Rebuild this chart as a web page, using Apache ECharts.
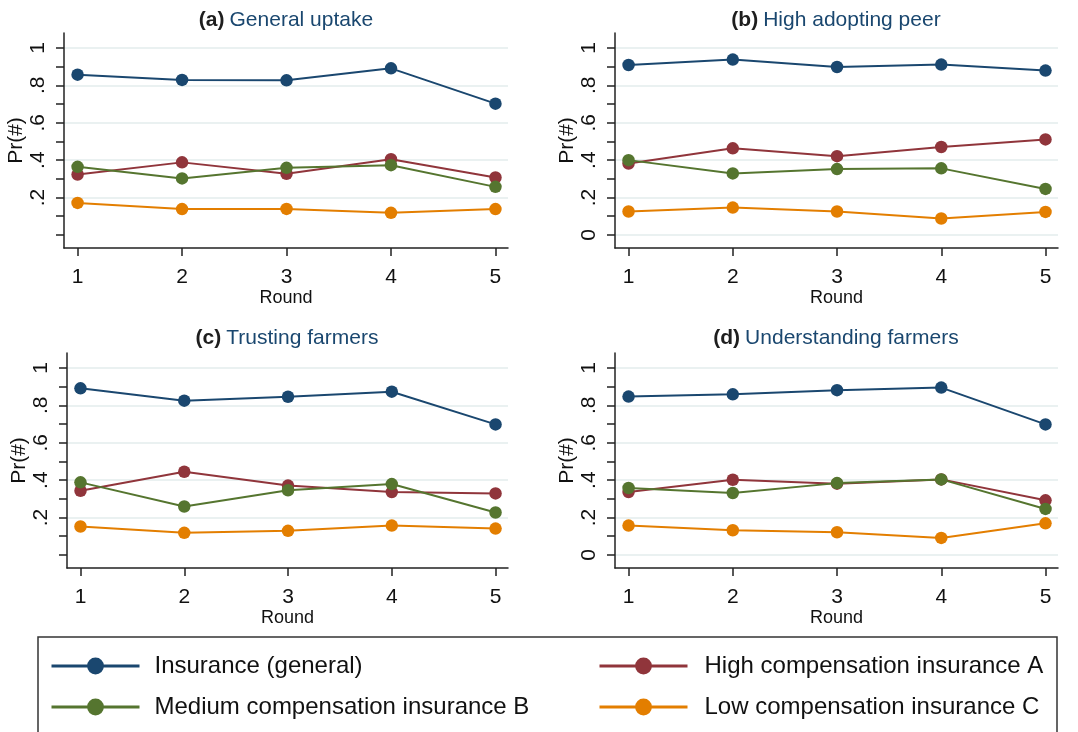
<!DOCTYPE html>
<html><head><meta charset="utf-8">
<script src="https://cdn.jsdelivr.net/npm/echarts@6/dist/echarts.min.js"></script>
<style>html,body{margin:0;padding:0;background:#fff}#c{width:1078px;height:732px}</style>
</head><body><div id="c"></div>
<script>
// ---------------- data ----------------
const rounds = [1, 2, 3, 4, 5];
const seriesNames = ['Insurance (general)', 'High compensation insurance A', 'Medium compensation insurance B', 'Low compensation insurance C'];
const panelLetters = ['(a)', '(b)', '(c)', '(d)'];
const panelTitles = ['General uptake', 'High adopting peer', 'Trusting farmers', 'Understanding farmers'];

// (a) General uptake
const a_insurance = [0.857, 0.829, 0.827, 0.891, 0.702];
const a_high      = [0.323, 0.388, 0.327, 0.405, 0.307];
const a_medium    = [0.364, 0.302, 0.359, 0.373, 0.257];
const a_low       = [0.171, 0.138, 0.139, 0.118, 0.138];
// (b) High adopting peer
const b_insurance = [0.909, 0.938, 0.898, 0.911, 0.879];
const b_high      = [0.382, 0.463, 0.421, 0.470, 0.511];
const b_medium    = [0.400, 0.329, 0.352, 0.356, 0.246];
const b_low       = [0.125, 0.146, 0.125, 0.088, 0.123];
// (c) Trusting farmers
const c_insurance = [0.891, 0.825, 0.846, 0.873, 0.698];
const c_high      = [0.343, 0.445, 0.371, 0.336, 0.329];
const c_medium    = [0.388, 0.259, 0.346, 0.379, 0.227];
const c_low       = [0.152, 0.118, 0.129, 0.157, 0.141];
// (d) Understanding farmers
const d_insurance = [0.847, 0.859, 0.881, 0.895, 0.698];
const d_high      = [0.336, 0.402, 0.381, 0.404, 0.292];
const d_medium    = [0.358, 0.331, 0.384, 0.404, 0.246];
const d_low       = [0.157, 0.132, 0.121, 0.091, 0.169];

const xTickValues = [1, 2, 3, 4, 5];
const yTickValues = [0, 0.1, 0.2, 0.3, 0.4, 0.5, 0.6, 0.7, 0.8, 0.9, 1];
const yLabelsNoZero = [0.2, 0.4, 0.6, 0.8, 1];
const yLabelsWithZero = [0, 0.2, 0.4, 0.6, 0.8, 1];
const xAxisTitle = 'Round';
const yAxisTitle = 'Pr(#)';

// ---------------- layout / style ----------------
const panelData = [
  [a_insurance, a_high, a_medium, a_low],
  [b_insurance, b_high, b_medium, b_low],
  [c_insurance, c_high, c_medium, c_low],
  [d_insurance, d_high, d_medium, d_low]
];
const panelYLabels = [yLabelsNoZero, yLabelsWithZero, yLabelsNoZero, yLabelsWithZero];
const grids = [
  {left: 64, top: 33, width: 444, height: 215},
  {left: 615, top: 33, width: 443, height: 215},
  {left: 67, top: 353, width: 441, height: 215},
  {left: 615, top: 353, width: 443, height: 215}
];
const titlePos = [{x: 286, y: 8}, {x: 836, y: 8}, {x: 287, y: 326}, {x: 836, y: 326}];
const colors = ['#1a476f', '#90353b', '#55752f', '#e37e00'];
const FONT = '"Liberation Sans", Arial, Helvetica, sans-serif';
const AXIS_COLOR = '#222';
const GRID_COLOR = '#e3eced';

function fmtY(v) {
  if (v === 0) return '0';
  if (v === 1) return '1';
  return String(v).replace(/^0/, '');
}

const legendCommon = {
  orient: 'vertical', top: 652,
  itemWidth: 88, itemHeight: 21, itemGap: 13, padding: 0,
  selectedMode: false,
  lineStyle: {width: 3}
};

const option = {
  backgroundColor: '#fff',
  animation: false,
  textStyle: {fontFamily: FONT},
  title: panelTitles.map((t, p) => ({
    text: '{b|' + panelLetters[p] + '} {n|' + t + '}',
    left: titlePos[p].x,
    top: titlePos[p].y,
    textAlign: 'center',
    padding: 0,
    textStyle: {
      fontFamily: FONT, fontWeight: 'normal',
      rich: {
        b: {fontFamily: FONT, fontWeight: 'bold', color: '#1e1e1e', fontSize: 21, lineHeight: 24},
        n: {fontFamily: FONT, fontWeight: 'normal', color: '#1a476f', fontSize: 21, lineHeight: 24}
      }
    }
  })),
  grid: grids.map(g => Object.assign({containLabel: false, outerBoundsMode: 'none'}, g)),
  xAxis: grids.map((g, p) => ({
    type: 'value', gridIndex: p, min: 0.87, max: 5.12,
    name: xAxisTitle, nameLocation: 'middle', nameGap: 38,
    nameTextStyle: {fontFamily: FONT, fontSize: 18, color: '#111'},
    axisLine: {show: true, onZero: false, lineStyle: {color: AXIS_COLOR, width: 1.5}},
    axisTick: {show: true, length: 8, inside: false, customValues: xTickValues, lineStyle: {color: AXIS_COLOR, width: 1.5}},
    axisLabel: {show: true, customValues: xTickValues, fontFamily: FONT, fontSize: 21, color: '#111', margin: 19},
    splitLine: {show: false}
  })),
  yAxis: [],
  legend: [
    Object.assign({}, legendCommon, {
      data: [seriesNames[0], seriesNames[2]], left: 50,
      textStyle: {fontFamily: FONT, fontSize: 24, color: '#111', lineHeight: 28, padding: [0, 0, 0, 10]}
    }),
    Object.assign({}, legendCommon, {
      data: [seriesNames[1], seriesNames[3]], left: 598,
      textStyle: {fontFamily: FONT, fontSize: 24, color: '#111', lineHeight: 28, padding: [0, 0, 0, 12]}
    })
  ],
  graphic: [{
    type: 'rect', silent: true, z: -1,
    shape: {x: 38, y: 637, width: 1019, height: 140},
    style: {fill: 'none', stroke: '#333', lineWidth: 1.5}
  }],
  series: []
};

grids.forEach((g, p) => {
  // main axis: ticks + labels
  option.yAxis.push({
    type: 'value', gridIndex: p, min: -0.07, max: 1.08,
    name: yAxisTitle, nameLocation: 'middle', nameGap: 37, nameRotate: 90,
    nameTextStyle: {fontFamily: FONT, fontSize: 21, color: '#111'},
    axisLine: {show: true, onZero: false, lineStyle: {color: AXIS_COLOR, width: 1.5}},
    axisTick: {show: true, length: 8, inside: false, customValues: yTickValues, lineStyle: {color: AXIS_COLOR, width: 1.5}},
    axisLabel: {show: true, customValues: panelYLabels[p], rotate: 90, formatter: fmtY, fontFamily: FONT, fontSize: 21, color: '#111', margin: 15},
    splitLine: {show: false}
  });
  // helper axis: gridlines only
  option.yAxis.push({
    type: 'value', gridIndex: p, min: -0.07, max: 1.08, position: 'left',
    axisLine: {show: false},
    axisTick: {show: false, customValues: panelYLabels[p]},
    axisLabel: {show: false, customValues: panelYLabels[p]},
    splitLine: {show: true, lineStyle: {color: GRID_COLOR, width: 1.5}}
  });
  panelData[p].forEach((vals, k) => {
    option.series.push({
      type: 'line', name: seriesNames[k],
      xAxisIndex: p, yAxisIndex: 2 * p,
      data: rounds.map((r, i) => [r, vals[i]]),
      symbol: 'circle', symbolSize: 12.5,
      lineStyle: {color: colors[k], width: 2},
      itemStyle: {color: colors[k]},
      emphasis: {disabled: true},
      silent: true,
      z: 3 + k
    });
  });
});

const chart = echarts.init(document.getElementById('c'), null, {renderer: 'canvas'});
chart.setOption(option);
</script>
</body></html>
